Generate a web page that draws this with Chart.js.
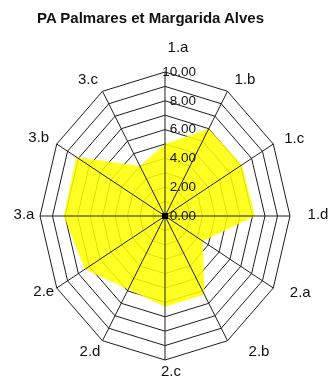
<!DOCTYPE html>
<html>
<head>
<meta charset="utf-8">
<script src="https://cdn.jsdelivr.net/npm/chart.js@4/dist/chart.umd.min.js"></script>
<style>
  html, body { margin: 0; padding: 0; background: #fff; }
  #wrap { position: relative; width: 332px; height: 387px; }
  #title {
    position: absolute; left: 37px; top: 10px;
    font: bold 15px "Liberation Sans", Arial, sans-serif; line-height: 15px;
    color: #111; white-space: nowrap;
  }
  canvas { position: absolute; left: 0; top: 0; }
</style>
</head>
<body>
<div id="wrap">
  <canvas id="chart" width="332" height="387"></canvas>
  <div id="title">PA Palmares et Margarida Alves</div>
</div>
<script>
// Axes of the evaluation grid and the scores on each
const categories = ['1.a', '1.b', '1.c', '1.d', '2.a', '2.b', '2.c', '2.d', '2.e', '3.a', '3.b', '3.c'];
const scores = [5.0, 7.0, 7.1, 7.2, 3.5, 6.3, 6.3, 5.9, 7.4, 8.1, 8.2, 4.0];
const tickLabels = ['0.00', '2.00', '4.00', '6.00', '8.00', '10.00'];

// Radial scale whose horizontal radius is a fraction of the vertical one,
// so the web is drawn as a flattened polygon.
class EllipseRadialScale extends Chart.RadialLinearScale {
  getPointPosition(index, distanceFromCenter, additionalAngle) {
    const p = super.getPointPosition(index, distanceFromCenter, additionalAngle);
    const k = this.options.xStretch ?? 1;
    return { x: this.xCenter + (p.x - this.xCenter) * k, y: p.y, angle: p.angle };
  }
}
EllipseRadialScale.id = 'ellipseRadial';
Chart.register(EllipseRadialScale);

// Spokes, hub, value labels and axis names, painted over the filled area
const overlay = {
  id: 'overlay',
  afterDatasetsDraw(chart, args, opts) {
    const s = chart.scales.r;
    const ctx = chart.ctx;
    const n = categories.length;
    ctx.save();

    ctx.strokeStyle = opts.lineColor;
    ctx.lineWidth = 1;
    ctx.beginPath();
    for (let i = 0; i < n; i++) {
      const p = s.getPointPosition(i, s.drawingArea);
      ctx.moveTo(s.xCenter, s.yCenter);
      ctx.lineTo(p.x, p.y);
    }
    ctx.stroke();

    ctx.fillStyle = '#000';
    ctx.fillRect(s.xCenter - 3, s.yCenter - 3, 6, 6);

    ctx.fillStyle = opts.textColor;
    ctx.font = opts.tickFont;
    ctx.textAlign = 'right';
    ctx.textBaseline = 'middle';
    tickLabels.forEach(t => {
      const p = s.getPointPosition(0, s.getDistanceFromCenterForValue(parseFloat(t)));
      ctx.fillText(t, p.x + opts.tickShift, p.y);
    });

    ctx.font = opts.labelFont;
    ctx.textAlign = 'center';
    categories.forEach((c, i) => {
      const p = s.getPointPosition(i, s.drawingArea);
      const [dx, dy] = opts.labelNudge[i];
      ctx.fillText(c, p.x + dx, p.y + dy);
    });
    ctx.restore();
  }
};

new Chart(document.getElementById('chart'), {
  type: 'radar',
  data: {
    labels: categories,
    datasets: [{
      data: scores,
      backgroundColor: 'rgba(255, 255, 0, 0.86)',
      borderWidth: 0,
      pointRadius: 0,
      fill: true
    }]
  },
  options: {
    responsive: false,
    animation: false,
    devicePixelRatio: 1,
    layout: { padding: { left: 21, right: 23, top: 72, bottom: 27 } },
    plugins: {
      legend: { display: false },
      tooltip: { enabled: false },
      overlay: {
        lineColor: '#1e1e1e',
        textColor: '#111',
        tickFont: '13.5px "Liberation Sans", Arial, sans-serif',
        labelFont: '15px "Liberation Sans", Arial, sans-serif',
        tickShift: 31,
        labelNudge: [[13, -24], [17.5, -11], [21, -5], [28, -1], [27, 5], [31.5, 11],
                     [6, 12], [-12.5, 11], [-13, 4], [-16, -1], [-18, -6], [-14.5, -11]]
      }
    },
    scales: {
      r: {
        type: 'ellipseRadial',
        xStretch: 125 / 144,
        min: 0,
        max: 10,
        ticks: { display: false, stepSize: 1 },
        pointLabels: { display: false },
        angleLines: { display: false },
        grid: { color: '#1e1e1e', lineWidth: 1 }
      }
    }
  },
  plugins: [overlay]
});
</script>
</body>
</html>
